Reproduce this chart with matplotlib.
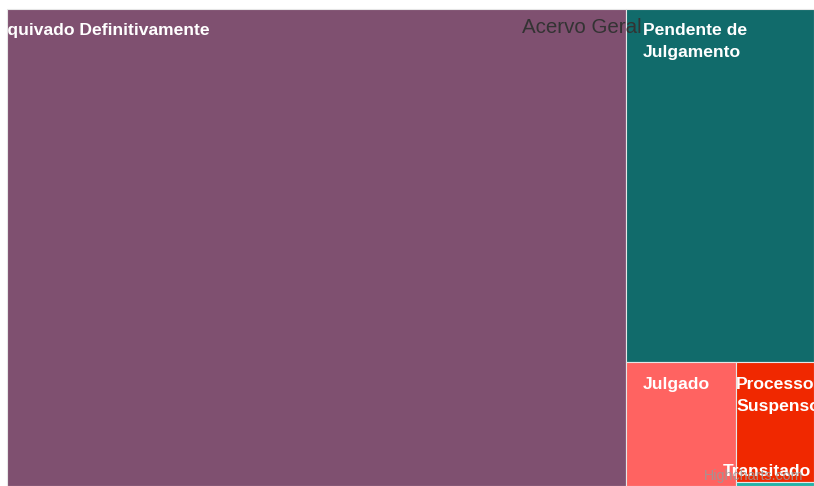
import matplotlib.pyplot as plt
from matplotlib.patches import Rectangle

plt.rcParams['font.family'] = ['Liberation Sans', 'DejaVu Sans']

# dados do treemap
labels = ["Arquivado Definitivamente", "Pendente de\nJulgamento", "Julgado",
          "Processo\nSuspenso", "Transitado"]
values = [295300, 66400, 13640, 9360, 310]
colors = ["#7f5070", "#116b6b", "#ff6361", "#f02800", "#22b2a6"]

W, H = 814, 486
X0, Y0, X1, Y1 = 7, 9, 814, 486


def slice_and_dice(vals, x, y, w, h, vertical=True):
    rects = []
    for i, v in enumerate(vals):
        rest = sum(vals[i:])
        if i == len(vals) - 1:
            rects.append((x, y, w, h))
            break
        if vertical:
            ww = w * v / rest
            rects.append((x, y, ww, h))
            x += ww
            w -= ww
        else:
            hh = h * v / rest
            rects.append((x, y, w, hh))
            y += hh
            h -= hh
        vertical = not vertical
    return rects


fig = plt.figure(figsize=(W / 100, H / 100), dpi=100)
ax = fig.add_axes([0, 0, 1, 1])
ax.set_xlim(0, W)
ax.set_ylim(H, 0)
ax.axis("off")

rects = slice_and_dice(values, X0, Y0, X1 - X0, Y1 - Y0)
for (x, y, w, h), c in zip(rects, colors):
    ax.add_patch(Rectangle((x, y), w, h, facecolor=c, edgecolor="#e6e6e6", lw=0.8))

clip = Rectangle((X0, Y0), X1 - X0, Y1 - Y0, transform=ax.transData, visible=False)
ax.add_patch(clip)

# deslocamentos dos rótulos dentro de cada célula
offsets = [(-19, 26), (17, 26), (17, 27), (0, 27), (-13, 0)]
for (x, y, w, h), lab, (dx, dy) in zip(rects, labels, offsets):
    if lab == "Transitado":
        by = 476
    else:
        by = y + dy
    for k, line in enumerate(lab.split("\n")):
        t = ax.text(x + dx, by + k * 22, line, color="white", fontsize=12.6,
                    fontweight="bold", ha="left", va="baseline")
        t.set_clip_path(clip)

ax.text(522, 33, "Acervo Geral", color="#333333", fontsize=14.8,
        ha="left", va="baseline")
ax.text(704, 480, "Highcharts.com", color="#999999", fontsize=10.3,
        ha="left", va="baseline", alpha=0.85)

fig.savefig("out.png", dpi=100)
